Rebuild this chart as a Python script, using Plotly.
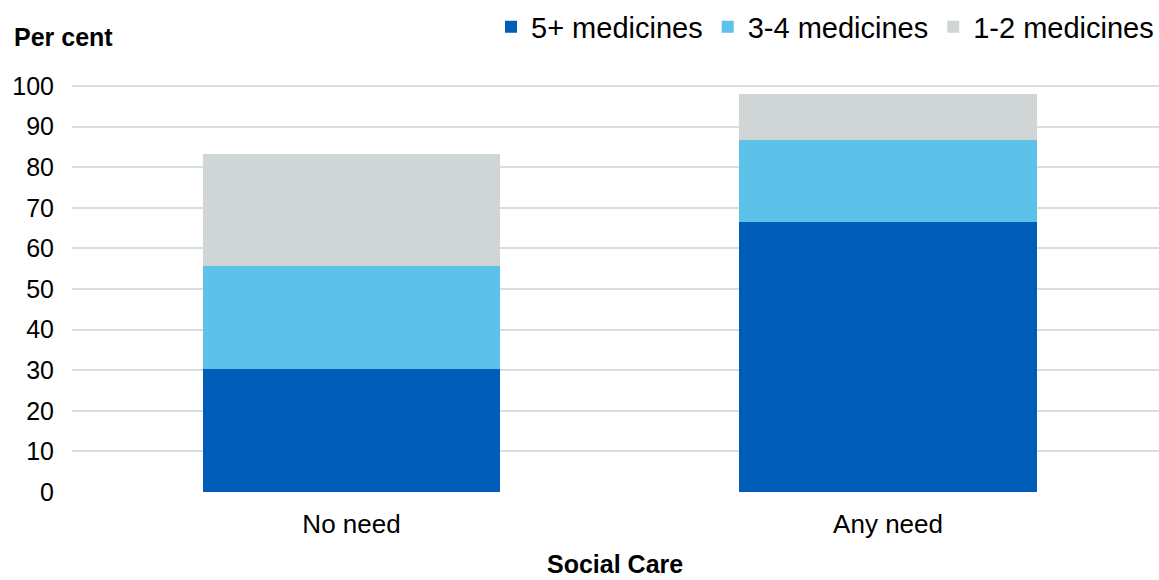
import plotly.graph_objects as go

categories = ["No need", "Any need"]
series_names = ["5+ medicines", "3-4 medicines", "1-2 medicines"]
five_plus = [30.3, 66.5]
three_four = [25.4, 20.2]
one_two = [27.5, 11.3]
colors = ["#005EB8", "#5EC1E9", "#D0D5D6"]
y_ticks = [0, 10, 20, 30, 40, 50, 60, 70, 80, 90, 100]

FONT = "Liberation Sans, Arial, sans-serif"

fig = go.Figure()
for name, vals, col in zip(series_names, [five_plus, three_four, one_two], colors):
    fig.add_trace(go.Bar(
        x=categories, y=vals, name=name,
        marker=dict(color=col, line=dict(width=0)),
        hoverinfo="x+y+name",
    ))

fig.update_layout(
    width=1159, height=580,
    barmode="stack",
    bargap=0.446,
    paper_bgcolor="white",
    plot_bgcolor="white",
    margin=dict(l=72, r=0, t=82, b=88, autoexpand=False),
    font=dict(family=FONT, size=25, color="#000000"),
    legend=dict(
        orientation="h",
        x=1.0, xanchor="right",
        y=(492 - 27) / 410, yanchor="middle",
        font=dict(family=FONT, size=29, color="#000000"),
        traceorder="normal",
        itemwidth=30,
        tracegroupgap=0,
        bgcolor="rgba(0,0,0,0)",
    ),
    showlegend=True,
)

fig.update_xaxes(
    range=[-0.521, 1.505],
    showgrid=False, showline=False, zeroline=False,
    ticks="outside", ticklen=9, tickcolor="rgba(0,0,0,0)",
    tickfont=dict(family=FONT, size=26, color="#000000"),
)
fig.update_yaxes(
    range=[0, 101],
    tickvals=y_ticks,
    showgrid=True, gridcolor="#D9DDE2", gridwidth=2,
    zeroline=False, showline=False,
    ticks="outside", ticklen=12, tickcolor="rgba(0,0,0,0)",
    tickfont=dict(family=FONT, size=25, color="#000000"),
)

fig.add_annotation(
    text="<b>Per cent</b>", xref="paper", yref="paper",
    x=(12 - 72) / 1087, y=(492 - 37) / 410,
    xanchor="left", yanchor="middle", showarrow=False,
    font=dict(family=FONT, size=25, color="#000000"),
)
fig.add_annotation(
    text="<b>Social Care</b>", xref="paper", yref="paper",
    x=(615 - 72) / 1087, y=(492 - 564) / 410,
    xanchor="center", yanchor="middle", showarrow=False,
    font=dict(family=FONT, size=25, color="#000000"),
)

fig.write_html("out.html")
